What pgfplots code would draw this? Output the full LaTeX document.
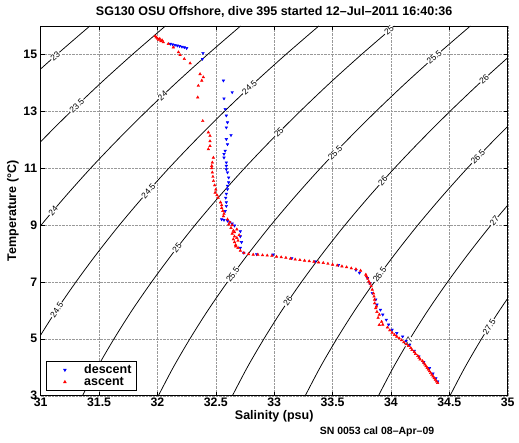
\documentclass[border=0pt]{standalone}
\usepackage{fontspec}
\setmainfont{Liberation Sans}
\usepackage{pgfplots}
\pgfplotsset{compat=1.18}
\begin{document}
\begin{tikzpicture}
\begin{axis}[
  scale only axis, width=467pt, height=369.7pt,
  xmin=31, xmax=35, ymin=3, ymax=16,
  xtick={31,31.5,32,32.5,33,33.5,34,34.5,35},
  ytick={3,5,7,9,11,13,15},
  /pgf/number format/assume math mode=true,
  grid=major,
  major grid style={densely dotted, gray!80, line width=0.4pt},
  tick align=inside, major tick length=4pt,
  tick style={black, line width=0.5pt},
  axis line style={black, line width=0.6pt},
  ticklabel style={font=\bfseries\fontsize{12.3}{14}\selectfont},
  xticklabel style={yshift=1pt},
  title={SG130 OSU Offshore, dive 395 started 12\textendash Jul\textendash 2011 16:40:36},
  title style={font=\bfseries\fontsize{12.5}{14}\selectfont, yshift=-1pt},
  xlabel={Salinity (psu)},
  ylabel={Temperature (\textdegree C)},
  label style={font=\bfseries\fontsize{12.5}{14}\selectfont},
  xlabel style={yshift=3pt},
  ylabel style={yshift=-2pt},
  legend style={at={(0.012,0.015)}, anchor=south west, draw=black, line width=0.6pt,
    font=\bfseries\fontsize{12.5}{14}\selectfont, inner xsep=3pt, inner ysep=1pt,
    row sep=-2pt},
  legend cell align=left,
  mylegimg/.style={legend image code/.code={\path (0pt,0pt) (32pt,0pt); \draw[only marks, ##1] plot coordinates {(15pt,0pt)};}},
]
% density contours
\addplot[black, line width=0.75pt, smooth, forget plot] coordinates {(30.613,13) (30.869,14) (31.139,15) (31.421,16)};
\addplot[black, line width=0.75pt, smooth, forget plot] coordinates {(30.566,10) (30.784,11) (31.016,12) (31.260,13) (31.516,14) (31.786,15) (32.068,16)};
\addplot[black, line width=0.75pt, smooth, forget plot] coordinates {(30.632,7) (30.812,8) (31.004,9) (31.210,10) (31.428,11) (31.660,12) (31.904,13) (32.160,14) (32.430,15) (32.712,16)};
\addplot[black, line width=0.75pt, smooth, forget plot] coordinates {(30.710,3) (30.838,4) (30.980,5) (31.134,6) (31.302,7) (31.482,8) (31.674,9) (31.880,10) (32.098,11) (32.330,12) (32.574,13) (32.830,14) (33.100,15) (33.382,16)};
\addplot[black, line width=0.75pt, smooth, forget plot] coordinates {(31.358,3) (31.486,4) (31.628,5) (31.782,6) (31.950,7) (32.130,8) (32.322,9) (32.528,10) (32.746,11) (32.978,12) (33.222,13) (33.478,14) (33.748,15) (34.030,16)};
\addplot[black, line width=0.75pt, smooth, forget plot] coordinates {(32.008,3) (32.136,4) (32.278,5) (32.432,6) (32.600,7) (32.780,8) (32.972,9) (33.178,10) (33.396,11) (33.628,12) (33.872,13) (34.128,14) (34.398,15) (34.680,16)};
\addplot[black, line width=0.75pt, smooth, forget plot] coordinates {(32.642,3) (32.770,4) (32.912,5) (33.066,6) (33.234,7) (33.414,8) (33.606,9) (33.812,10) (34.030,11) (34.262,12) (34.506,13) (34.762,14) (35.032,15) (35.314,16)};
\addplot[black, line width=0.75pt, smooth, forget plot] coordinates {(33.266,3) (33.394,4) (33.536,5) (33.690,6) (33.858,7) (34.038,8) (34.230,9) (34.436,10) (34.654,11) (34.886,12) (35.130,13)};
\addplot[black, line width=0.75pt, smooth, forget plot] coordinates {(33.893,3) (34.021,4) (34.163,5) (34.317,6) (34.485,7) (34.665,8) (34.857,9) (35.063,10)};
\addplot[black, line width=0.75pt, smooth, forget plot] coordinates {(34.506,3) (34.634,4) (34.776,5) (34.930,6) (35.098,7)};
% contour labels
\tikzset{cl/.style={fill=white, inner sep=0.6pt, font=\fontsize{8.5}{9}\selectfont}}
\node[cl, rotate=41.3] at (axis cs:31.125,14.95) {23};
\node[cl, rotate=44] at (axis cs:31.31,13.2) {23.5};
\node[cl, rotate=43.3] at (axis cs:32.043,13.55) {24};
\node[cl, rotate=49.7] at (axis cs:31.106,9.5) {24};
\node[cl, rotate=42.9] at (axis cs:32.788,13.84) {24.5};
\node[cl, rotate=48.7] at (axis cs:31.923,10.2) {24.5};
\node[cl, rotate=56.5] at (axis cs:31.138,6.02) {24.5};
\node[cl, rotate=40.3] at (axis cs:33.984,15.84) {25};
\node[cl, rotate=45.2] at (axis cs:33.04,12.26) {25};
\node[cl, rotate=52.1] at (axis cs:32.167,8.2) {25};
\node[cl, rotate=41.4] at (axis cs:34.371,14.9) {25.5};
\node[cl, rotate=46.3] at (axis cs:33.522,11.55) {25.5};
\node[cl, rotate=54] at (axis cs:32.645,7.26) {25.5};
\node[cl, rotate=42.5] at (axis cs:34.799,14.14) {26};
\node[cl, rotate=47.9] at (axis cs:33.93,10.55) {26};
\node[cl, rotate=55.8] at (axis cs:33.118,6.32) {26};
\node[cl, rotate=46.4] at (axis cs:34.745,11.4) {26.5};
\node[cl, rotate=54] at (axis cs:33.903,7.26) {26.5};
\node[cl, rotate=50.4] at (axis cs:34.885,9.14) {27};
\node[cl, rotate=58.8] at (axis cs:34.148,4.9) {27};
\node[cl, rotate=57.8] at (axis cs:34.841,5.43) {27.5};
% descent
\addplot[only marks, mylegimg, blue, mark=triangle*, mark size=1.5pt, mark options={rotate=180, fill=blue, draw=blue}] coordinates {
(32.11,15.37) (32.13,15.35) (32.15,15.33) (32.17,15.31) (32.19,15.29) (32.21,15.27) (32.23,15.25) (32.25,15.22)
(32.39,15.05) (32.385,14.84) (32.565,14.08) (32.64,13.67) (32.57,13.45) (32.58,13.08) (32.59,12.85) (32.60,12.61)
(32.59,12.43) (32.63,12.16) (32.59,12.02) (32.60,11.84) (32.58,11.61) (32.57,11.50) (32.57,11.37) (32.59,11.20)
(32.59,11.08) (32.59,10.96) (32.60,10.85) (32.61,10.67) (32.61,10.50) (32.60,10.38) (32.60,10.26) (32.59,10.10)
(32.585,9.96) (32.59,9.80) (32.59,9.67) (32.58,9.49) (32.55,9.20) (32.57,9.18) (32.60,9.15) (32.62,9.10)
(32.64,9.05) (32.66,8.98) (32.71,8.78) (32.71,8.60) (32.72,8.40) (32.71,8.20) (32.74,8.02) (32.85,7.97)
(32.99,7.96) (33.15,7.83) (33.35,7.72) (33.55,7.59) (33.70,7.42) (33.73,7.32) (33.80,7.14) (33.82,6.95)
(33.84,6.61) (33.87,6.38) (33.88,6.20) (33.91,6.02) (33.93,5.85) (33.96,5.67) (33.98,5.50) (34.01,5.32)
(34.05,5.20) (34.10,5.08) (34.13,4.93) (34.16,4.79) (34.20,4.58) (34.24,4.38) (34.28,4.18) (34.33,3.97)
(34.36,3.78) (34.385,3.61) (34.40,3.50)
};
\addlegendentry{descent}
% ascent
\addplot[only marks, mylegimg, red, mark=triangle*, mark size=1.5pt, mark options={fill=red, draw=red}] coordinates {
(34.40,3.45) (34.39,3.50) (34.38,3.56) (34.37,3.62) (34.36,3.68) (34.35,3.74) (34.34,3.80) (34.33,3.86)
(34.32,3.92) (34.31,3.98) (34.30,4.04) (34.29,4.10) (34.28,4.16) (34.27,4.22) (34.25,4.28) (34.24,4.34)
(34.23,4.40) (34.21,4.47) (34.20,4.54) (34.18,4.61) (34.17,4.68) (34.15,4.75) (34.13,4.81) (34.11,4.88)
(34.09,4.95) (34.07,5.02) (34.05,5.08) (34.03,5.14) (34.01,5.22) (33.99,5.30) (33.97,5.40)
(33.93,5.50) (33.90,5.49) (33.92,5.60) (33.89,5.74) (33.90,5.85) (33.88,5.95) (33.87,6.08) (33.875,6.14)
(33.86,6.25) (33.86,6.38) (33.855,6.49) (33.85,6.60) (33.84,6.73) (33.83,6.85) (33.82,6.95) (33.81,7.02)
(33.80,7.12) (33.79,7.20) (33.785,7.26)
(33.74,7.40) (33.70,7.45) (33.66,7.48) (33.62,7.52) (33.58,7.55) (33.54,7.58) (33.50,7.61) (33.46,7.64)
(33.42,7.67) (33.38,7.69) (33.34,7.71) (33.30,7.73) (33.26,7.75) (33.22,7.77) (33.18,7.79) (33.14,7.82)
(33.10,7.85) (33.06,7.87) (33.02,7.89) (32.98,7.92) (32.94,7.93) (32.90,7.94) (32.86,7.96) (32.82,7.96)
(32.78,7.98) (32.74,8.02) (32.71,8.10) (32.69,8.20)
(32.67,8.30) (32.66,8.40) (32.65,8.50) (32.66,8.60) (32.64,8.70) (32.65,8.80) (32.63,8.90) (32.64,9.00)
(32.69,8.45) (32.70,8.65) (32.68,8.85) (32.67,8.25) (32.68,8.55) (32.66,8.75)
(32.61,9.02) (32.62,9.10) (32.60,9.20) (32.565,9.31) (32.57,9.40) (32.56,9.50) (32.55,9.60) (32.55,9.70)
(32.54,9.80) (32.52,9.96) (32.51,10.05) (32.494,10.14) (32.50,10.25)
(32.49,10.40) (32.48,10.55) (32.475,10.70) (32.47,10.85) (32.465,11.00) (32.465,11.08) (32.47,11.20)
(32.479,11.37) (32.436,11.67) (32.45,11.78) (32.45,11.95) (32.45,12.14) (32.436,12.26) (32.388,12.66)
(32.345,13.49) (32.35,13.90) (32.38,14.08) (32.393,14.20) (32.365,14.31) (32.28,14.69) (32.23,14.84)
(32.194,14.98) (32.18,15.08) (32.136,15.25) (32.093,15.37) (32.05,15.43) (32.03,15.47) (32.01,15.52)
(32.00,15.56) (31.99,15.60) (31.98,15.64) (32.02,15.55) (32.04,15.50)
};
\addlegendentry{ascent}
\end{axis}
\node[font=\bfseries\fontsize{10.5}{12}\selectfont] at ([xshift=336.3pt, yshift=-36.3pt]current axis.south west) {SN 0053 cal 08\textendash Apr\textendash 09};
\pgfresetboundingbox
\path[use as bounding box] ([shift={(-40.7pt,-46.3pt)}]current axis.south west) rectangle ([shift={(11.3pt,26pt)}]current axis.north east);
\end{tikzpicture}
\end{document}
